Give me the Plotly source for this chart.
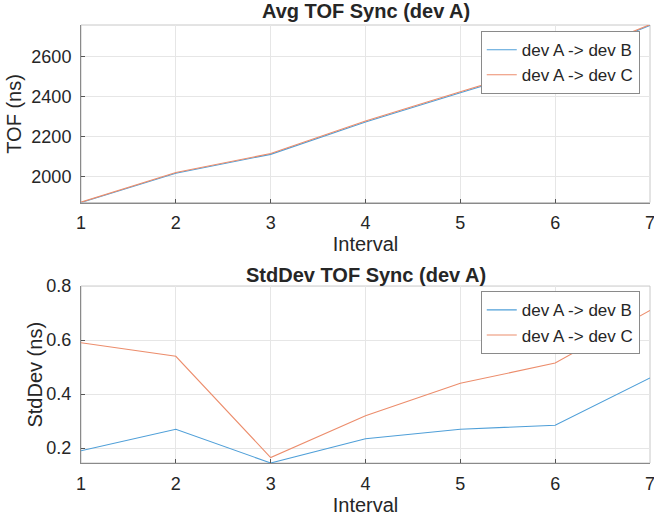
import plotly.graph_objects as go

intervals = [1, 2, 3, 4, 5, 6, 7]
avg_ab = [1868, 2015, 2110, 2273, 2420, 2565, 2758]
avg_ac = [1870, 2019, 2114, 2278, 2425, 2570, 2762]
std_ab = [0.19, 0.27, 0.145, 0.235, 0.27, 0.285, 0.46]
std_ac = [0.59, 0.54, 0.165, 0.32, 0.44, 0.515, 0.71]
names = ["dev A -> dev B", "dev A -> dev C"]
avg_ticks = [2000, 2200, 2400, 2600]
std_ticks = [0.2, 0.4, 0.6, 0.8]

blue = "#4f9fd8"
orange = "#ec8d6c"
FONT = "Liberation Sans, Arial, sans-serif"
txt = "#262626"

fig = go.Figure()
fig.add_trace(go.Scatter(x=intervals, y=avg_ab, mode="lines", name=names[0],
                         line=dict(color=blue, width=1.1), xaxis="x", yaxis="y", legend="legend"))
fig.add_trace(go.Scatter(x=intervals, y=avg_ac, mode="lines", name=names[1],
                         line=dict(color=orange, width=1.1), xaxis="x", yaxis="y", legend="legend"))
fig.add_trace(go.Scatter(x=intervals, y=std_ab, mode="lines", name=names[0],
                         line=dict(color=blue, width=1.1), xaxis="x2", yaxis="y2", legend="legend2"))
fig.add_trace(go.Scatter(x=intervals, y=std_ac, mode="lines", name=names[1],
                         line=dict(color=orange, width=1.1), xaxis="x2", yaxis="y2", legend="legend2"))

axis_common = dict(showgrid=True, gridcolor="#e6e6e6", gridwidth=1, zeroline=False,
                   showline=True, linecolor="#8a8a8a", linewidth=1,
                   ticks="inside", ticklen=4, tickcolor="#555555", automargin=False,
                   ticklabeloverflow="allow",
                   tickfont=dict(family=FONT, size=18, color=txt))
xtitle = dict(text="Interval", font=dict(family=FONT, size=20, color=txt), standoff=4)

top_dom = [0.5947, 1.0]
bot_dom = [0.0, 0.404]
tfont = dict(family=FONT, size=20, color=txt)
lfont = dict(family=FONT, size=17, color=txt)

fig.update_layout(
    width=654, height=522,
    margin=dict(l=81, r=4, t=25, b=59),
    paper_bgcolor="white", plot_bgcolor="white",
    font=dict(family=FONT, color=txt),
    xaxis=dict(domain=[0, 1], anchor="y", range=[1, 7], tickvals=intervals,
               ticklabelstandoff=4, title=xtitle, **axis_common),
    yaxis=dict(domain=top_dom, anchor="x", range=[1868, 2760], tickvals=avg_ticks,
               ticklabelstandoff=5, **axis_common),
    xaxis2=dict(domain=[0, 1], anchor="y2", range=[1, 7], tickvals=intervals,
                ticklabelstandoff=4, title=xtitle, **axis_common),
    yaxis2=dict(domain=bot_dom, anchor="x2", range=[0.145, 0.8], tickvals=std_ticks,
                tickformat=".1f", ticklabelstandoff=5, **axis_common),
    legend=dict(x=0.982, y=0.986, xanchor="right", yanchor="top",
                bgcolor="white", bordercolor="#8a8a8a", borderwidth=1,
                font=lfont, tracegroupgap=0),
    legend2=dict(x=0.982, y=0.392, xanchor="right", yanchor="top",
                 bgcolor="white", bordercolor="#8a8a8a", borderwidth=1,
                 font=lfont, tracegroupgap=0),
    annotations=[
        dict(text="<b>Avg TOF Sync (dev A)</b>", x=0.5, y=1.0, xref="paper", yref="paper",
             yanchor="bottom", showarrow=False, yshift=1, font=tfont),
        dict(text="<b>StdDev TOF Sync (dev A)</b>", x=0.5, y=bot_dom[1], xref="paper", yref="paper",
             yanchor="bottom", showarrow=False, yshift=-2, font=tfont),
        dict(text="TOF (ns)", x=0, y=sum(top_dom) / 2, xref="paper", yref="paper",
             xanchor="center", yanchor="middle", textangle=-90, xshift=-67,
             showarrow=False, font=tfont),
        dict(text="StdDev (ns)", x=0, y=sum(bot_dom) / 2, xref="paper", yref="paper",
             xanchor="center", yanchor="middle", textangle=-90, xshift=-46,
             showarrow=False, font=tfont),
    ],
    shapes=[
        dict(type="rect", xref="x domain", yref="y domain", x0=0, x1=1, y0=0, y1=1,
             line=dict(color="#c8c8c8", width=1), layer="below"),
        dict(type="rect", xref="x2 domain", yref="y2 domain", x0=0, x1=1, y0=0, y1=1,
             line=dict(color="#c8c8c8", width=1), layer="below"),
    ],
)

fig.write_html("out.html", config={"displayModeBar": False},
               post_script="document.body.style.margin='0';document.body.style.overflow='hidden';")
